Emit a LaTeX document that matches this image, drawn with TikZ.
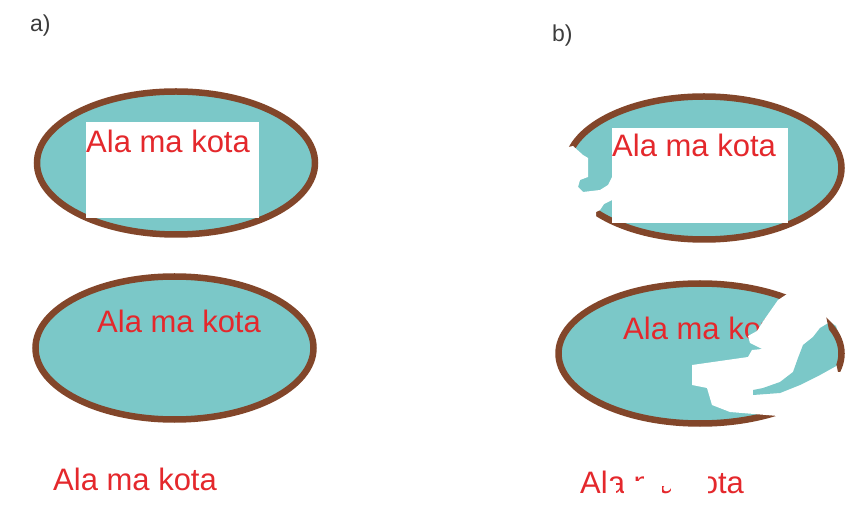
\documentclass[tikz,border=0pt]{standalone}
\usepackage{fontspec}
\setmainfont{Liberation Sans}
\usepackage{tikz}
\usetikzlibrary{shapes.geometric,positioning}
\usepackage{xcolor}
\definecolor{ovalcol}{RGB}{123,200,200}
\definecolor{rimcol}{RGB}{130,70,42}
\definecolor{kotacol}{RGB}{228,40,44}
\definecolor{labcol}{RGB}{60,60,60}
\tikzset{
  % teal oval with brown rim
  oval/.style={ellipse, fill=ovalcol, draw=rimcol, line width=6.5pt, inner sep=0pt,
               minimum width=#1},
  oval/.default={278pt},
  % brown rim only
  rim/.style={draw=rimcol, line width=6.5pt},
  % the sample text
  kota/.style={text=kotacol, font=\fontsize{31}{36}\selectfont, inner sep=0pt, anchor=base west},
  % panel letter
  panellabel/.style={text=labcol, font=\fontsize{23}{26}\selectfont, inner sep=0pt, anchor=base west},
  % white patch (damaged area)
  wipe/.style={fill=white, draw=none},
  % teal patch
  tealpatch/.style={fill=ovalcol, draw=none},
}
\begin{document}
\begin{tikzpicture}[x=1pt, y=-1pt]
  \useasboundingbox (0,0) rectangle (846,518);

  % panel a
  \node[panellabel] (laba) at (30,32) {a)};
  \node[oval, minimum height=143pt] (ovalA1) at (176,163) {};
  \fill[white] (86,122) rectangle (259,218);
  \node[kota] (kotaA1) at (86,153) {Ala ma kota};
  \node[oval=278pt, minimum height=143pt] (ovalA2) at (174.5,348) {};
  \node[kota] (kotaA2) at (97,333) {Ala ma kota};
  \node[kota] (kotaA3) at (53,490) {Ala ma kota};

  % panel b
  \node[panellabel] (labb) at (552,42) {b)};
  \node[oval=275pt, minimum height=143pt] (ovalB1) at (704,168) {};
  \fill[white] (612,128) rectangle (788,223);
  \node[kota] (kotaB1) at (612,157) {Ala ma kota};
  \fill[wipe] (555,150) -- (573,146) -- (583,155) -- (588,158) -- (588,177) -- (580,180)
    -- (578,187) -- (583,192) -- (600,190) -- (608,185) -- (612,177) -- (612,200)
    -- (604,204) -- (600,210) -- (596,212) -- (596,224) -- (555,224) -- cycle;

  \node[oval=283pt, minimum height=140pt] (ovalB2) at (700,353.5) {};
  \node[kota] (kotaB2) at (623,340) {Ala ma kota};
  \fill[wipe] (790,272) -- (848,272) -- (848,440) -- (776,440) -- (778,416) -- (730,412)
    -- (712,405) -- (707,388) -- (692,385) -- (692,365) -- (720,361) -- (748,357)
    -- (752,350) -- (762,349) -- (750,343) -- (748,336) -- (757,331) -- (764,320)
    -- (771,310) -- (778,300) -- (790,292) -- cycle;
  \fill[tealpatch] (830,322) -- (820,328) -- (813,337) -- (803,345) -- (798,358)
    -- (793,372) -- (780,382) -- (763,388) -- (753,390) -- (753,395) -- (780,393)
    -- (800,385) -- (820,375) -- (838,365) -- (842,345) -- (836,326) -- cycle;
  \begin{scope}
    \clip (826,316) -- (850,316) -- (850,372) -- (838,372) -- cycle;
    \draw[rim] (ovalB2.center) ellipse [x radius=141.5pt, y radius=70pt];
  \end{scope}

  \node[kota] (kotaB3) at (580,493) {Ala ma kota};
  \fill[wipe] (607,481) rectangle (616,497);
  \fill[wipe] (624,462) rectangle (634,497);
  \fill[wipe] (634,481) rectangle (644,497);
  \fill[wipe] (644,462) rectangle (662,497);
  \fill[wipe] (662,462) rectangle (671,486);
  \fill[wipe] (671,462) rectangle (708,497);
\end{tikzpicture}
\end{document}
